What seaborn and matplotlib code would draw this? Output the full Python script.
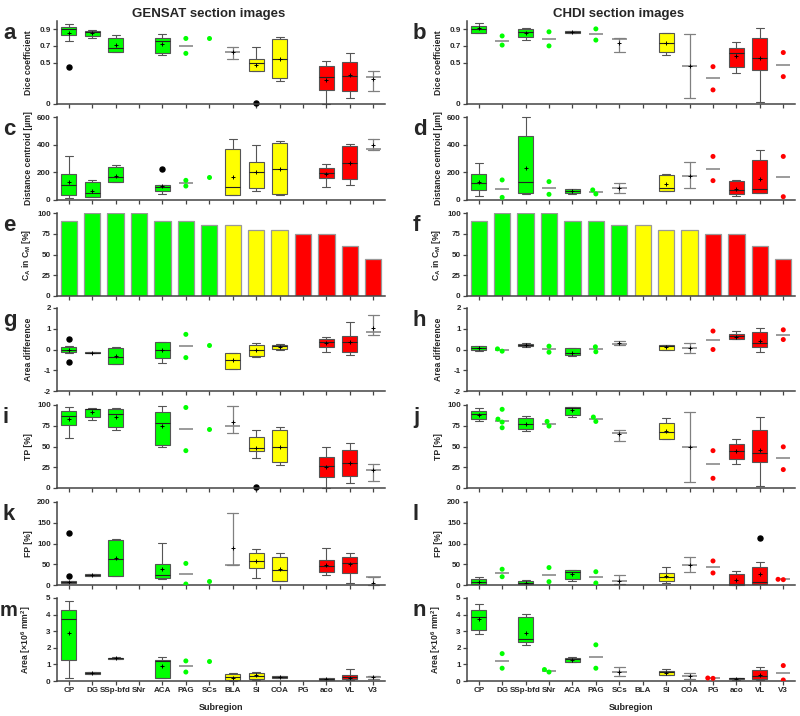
import numpy as np
import pandas as pd
import matplotlib
matplotlib.use("Agg")
import matplotlib.pyplot as plt
import seaborn as sns

# subregions and their colour groups
subregions = ["CP", "DG", "SSp-bfd", "SNr", "ACA", "PAG", "SCs",
              "BLA", "SI", "COA", "PG", "aco", "VL", "V3"]
groups = ["g"] * 7 + ["y"] * 3 + ["r"] * 4
group_colors = {"g": "#00ff00", "y": "#ffff00", "r": "#ff0000"}

# C_A in C_M [%] (same for both columns)
ca_in_cm = [90, 100, 100, 100, 90, 90, 85, 85, 80, 80, 75, 75, 60, 45]

# box: (low whisker, q1, median, q3, high whisker, mean)
# range: (low, median, high, mean)  -> grey whisker-only
# dots: individual values
dice_gensat = {
    "CP": ("box", 0.755, 0.837, 0.90, 0.93, 0.96, 0.85),
    "DG": ("box", 0.80, 0.82, 0.87, 0.885, 0.89, 0.86),
    "SSp-bfd": ("box", 0.63, 0.63, 0.68, 0.80, 0.83, 0.71),
    "ACA": ("box", 0.585, 0.62, 0.755, 0.80, 0.845, 0.72),
    "PAG": ("dots", [0.79, 0.61]),
    "SCs": ("dots", [0.80]),
    "BLA": ("range", 0.54, 0.63, 0.685, 0.625),
    "SI": ("box", 0.40, 0.40, 0.50, 0.54, 0.69, 0.465),
    "COA": ("box", 0.28, 0.31, 0.54, 0.78, 0.81, 0.54),
    "aco": ("box", 0.0, 0.17, 0.33, 0.46, 0.52, 0.29),
    "VL": ("box", 0.07, 0.16, 0.34, 0.51, 0.61, 0.35),
    "V3": ("range", 0.16, 0.32, 0.40, 0.30),
}
dice_gensat_out = {"CP": [0.44], "SI": [0.01]}

dice_chdi = {
    "CP": ("box", 0.85, 0.86, 0.905, 0.94, 0.97, 0.91),
    "DG": ("dots", [0.82, 0.71]),
    "SSp-bfd": ("box", 0.775, 0.81, 0.865, 0.905, 0.92, 0.86),
    "SNr": ("dots", [0.87, 0.70]),
    "ACA": ("box", 0.85, 0.855, 0.87, 0.88, 0.885, 0.87),
    "PAG": ("dots", [0.905, 0.77]),
    "SCs": ("range", 0.63, 0.785, 0.79, 0.74),
    "SI": ("box", 0.59, 0.63, 0.735, 0.86, 0.86, 0.735),
    "COA": ("range", 0.07, 0.46, 0.845, 0.46),
    "PG": ("dots", [0.45, 0.17]),
    "aco": ("box", 0.37, 0.45, 0.61, 0.68, 0.75, 0.58),
    "VL": ("box", 0.03, 0.41, 0.56, 0.79, 0.92, 0.55),
    "V3": ("dots", [0.62, 0.33]),
}

dist_gensat = {
    "CP": ("box", 14, 39, 111, 188, 321, 133),
    "DG": ("box", 19, 24, 53, 128, 145, 63),
    "SSp-bfd": ("box", 133, 133, 169, 235, 254, 177),
    "ACA": ("box", 41, 68, 97, 111, 111, 101),
    "PAG": ("dots", [101, 142]),
    "SCs": ("dots", [167]),
    "BLA": ("box", 36, 36, 94, 367, 444, 169),
    "SI": ("box", 65, 85, 200, 278, 394, 200),
    "COA": ("box", 34, 44, 223, 411, 428, 222),
    "aco": ("box", 97, 157, 198, 230, 261, 189),
    "VL": ("box", 109, 152, 271, 392, 406, 271),
    "V3": ("range", 358, 368, 443, 394),
}
dist_gensat_out = {"ACA": [222]}

dist_chdi = {
    "CP": ("box", 29, 73, 121, 189, 266, 133),
    "DG": ("dots", [145, 19]),
    "SSp-bfd": ("box", 41, 53, 128, 465, 600, 230),
    "SNr": ("dots", [133, 41]),
    "ACA": ("box", 44, 48, 65, 77, 82, 65),
    "PAG": ("dots", [44, 73]),
    "SCs": ("range", 53, 90, 123, 85),
    "SI": ("box", 65, 65, 85, 181, 189, 114),
    "COA": ("range", 85, 177, 278, 177),
    "PG": ("dots", [315, 140]),
    "aco": ("box", 32, 45, 70, 138, 141, 82),
    "VL": ("box", 48, 48, 77, 290, 358, 152),
    "V3": ("dots", [315, 24]),
}

adiff_gensat = {
    "CP": ("box", -0.18, -0.10, 0.0, 0.10, 0.19, 0.0),
    "DG": ("box", -0.18, -0.17, -0.15, -0.12, -0.11, -0.15),
    "SSp-bfd": ("box", -0.68, -0.68, -0.34, 0.05, 0.10, -0.31),
    "ACA": ("box", -0.63, -0.42, -0.03, 0.34, 0.37, -0.03),
    "PAG": ("dots", [0.73, -0.39]),
    "SCs": ("dots", [0.24]),
    "BLA": ("box", -0.94, -0.92, -0.52, -0.15, -0.15, -0.52),
    "SI": ("box", -0.34, -0.31, 0.0, 0.21, 0.31, -0.03),
    "COA": ("box", -0.03, 0.02, 0.15, 0.24, 0.26, 0.13),
    "aco": ("box", -0.10, 0.11, 0.35, 0.52, 0.61, 0.32),
    "VL": ("box", -0.26, -0.10, 0.37, 0.63, 1.32, 0.37),
    "V3": ("range", 0.68, 0.82, 1.65, 1.06),
}
adiff_gensat_out = {"CP": [0.5, -0.61]}

adiff_chdi = {
    "CP": ("box", -0.05, -0.03, 0.05, 0.16, 0.19, 0.05),
    "DG": ("dots", [-0.08, 0.03]),
    "SSp-bfd": ("box", 0.13, 0.16, 0.21, 0.26, 0.31, 0.20),
    "SNr": ("dots", [-0.13, 0.16]),
    "ACA": ("box", -0.29, -0.27, -0.18, 0.05, 0.06, -0.18),
    "PAG": ("dots", [-0.11, 0.13]),
    "SCs": ("range", 0.23, 0.27, 0.39, 0.30),
    "SI": ("box", 0.0, 0.0, 0.19, 0.24, 0.24, 0.13),
    "COA": ("range", -0.19, 0.06, 0.31, 0.06),
    "PG": ("dots", [0.89, 0.0]),
    "aco": ("box", 0.50, 0.50, 0.63, 0.74, 0.87, 0.61),
    "VL": ("box", -0.13, 0.11, 0.29, 0.84, 1.06, 0.42),
    "V3": ("dots", [0.95, 0.48]),
}

tp_gensat = {
    "CP": ("box", 59.7, 75.4, 86.7, 92.7, 97, 83),
    "DG": ("box", 82.5, 85.5, 95, 95.5, 96, 91.5),
    "SSp-bfd": ("box", 70, 74, 89, 95, 96, 86),
    "ACA": ("box", 49.6, 52.4, 78.6, 91.5, 99, 75),
    "PAG": ("dots", [97, 45]),
    "SCs": ("dots", [70.6]),
    "BLA": ("range", 66.5, 75, 99, 79),
    "SI": ("box", 36, 44, 48, 61, 70, 48.5),
    "COA": ("box", 28, 31, 49, 70, 73, 49),
    "aco": ("box", 0, 13, 26, 37.5, 50, 25.4),
    "VL": ("box", 6.5, 14.5, 30, 46, 54.4, 30.6),
    "V3": ("range", 8.9, 22, 29.4, 21.8),
}
tp_gensat_out = {"SI": [1]}

tp_chdi = {
    "CP": ("box", 80.6, 83.5, 88.7, 93, 96.8, 88),
    "DG": ("dots", [94.8, 83, 79.4, 72.6]),
    "SSp-bfd": ("box", 69, 71, 77.4, 84.7, 86.7, 77),
    "SNr": ("dots", [74.6, 80.2]),
    "ACA": ("box", 85, 87.5, 96.8, 98, 98, 94),
    "PAG": ("dots", [80.2, 85.5]),
    "SCs": ("range", 56.9, 66.5, 69.4, 64.5),
    "SI": ("box", 58.5, 58.5, 67, 78.6, 84.7, 68.5),
    "COA": ("range", 6.9, 49.6, 92, 49.6),
    "PG": ("dots", [45, 11.7]),
    "aco": ("box", 29.4, 35.5, 44.4, 53.6, 59, 44),
    "VL": ("box", 2.4, 31.5, 42.3, 69.8, 85.9, 46),
    "V3": ("dots", [49.6, 22.2]),
}

fp_gensat = {
    "CP": ("box", 4.8, 4.9, 7.4, 10.6, 10.6, 8),
    "DG": ("box", 21.5, 21.8, 24, 25.8, 25.8, 24),
    "SSp-bfd": ("box", 21.8, 21.8, 63, 108, 110, 65),
    "ACA": ("box", 14.5, 16, 25, 51, 102, 38.7),
    "PAG": ("dots", [52, 2.4]),
    "SCs": ("dots", [8.9]),
    "BLA": ("range", 47, 47, 174, 89),
    "SI": ("box", 17.7, 42, 57, 76.6, 87, 57.3),
    "COA": ("box", 8.9, 8.9, 35.5, 68.5, 76.6, 38.7),
    "aco": ("box", 23.4, 30.6, 46.8, 60.5, 89.5, 48.4),
    "VL": ("box", 4, 29.8, 54, 68.5, 76.6, 50),
    "V3": ("range", 0.5, 19.5, 20, 4),
}
fp_gensat_out = {"CP": [126, 22]}

fp_chdi = {
    "CP": ("box", 1.6, 2.4, 8, 14.5, 20, 7),
    "DG": ("dots", [38, 20]),
    "SSp-bfd": ("box", 1.6, 1.6, 4.8, 9.7, 11.3, 4.8),
    "SNr": ("dots", [42, 8]),
    "ACA": ("box", 9.7, 14.5, 30.6, 36, 36, 26.6),
    "PAG": ("dots", [32, 4.8]),
    "SCs": ("range", 1.6, 8.9, 25, 9.7),
    "SI": ("box", 4, 10.5, 20, 28, 44, 21.8),
    "COA": ("range", 30.6, 47.6, 67, 47.6),
    "PG": ("dots", [58, 29]),
    "aco": ("box", 0, 0, 1.6, 25.8, 33, 12),
    "VL": ("box", 2.4, 2.4, 6.5, 44, 55, 26.6),
    "V3": ("dots", [12.9, 13.7]),
}
fp_chdi_out = {"VL": [113]}

area_gensat = {
    "CP": ("box", 0.2, 1.27, 3.75, 4.29, 4.8, 2.9),
    "DG": ("box", 0.42, 0.44, 0.48, 0.53, 0.55, 0.48),
    "SSp-bfd": ("box", 1.32, 1.33, 1.37, 1.41, 1.42, 1.37),
    "ACA": ("box", 0.2, 0.2, 1.23, 1.27, 1.45, 0.9),
    "PAG": ("dots", [1.21, 0.54]),
    "SCs": ("dots", [1.23]),
    "BLA": ("box", 0.02, 0.06, 0.22, 0.42, 0.46, 0.2),
    "SI": ("box", 0.08, 0.14, 0.32, 0.5, 0.54, 0.34),
    "COA": ("box", 0.16, 0.17, 0.24, 0.29, 0.3, 0.24),
    "aco": ("box", 0.04, 0.06, 0.12, 0.16, 0.18, 0.12),
    "VL": ("box", 0.06, 0.1, 0.22, 0.34, 0.7, 0.2),
    "V3": ("range", 0.12, 0.22, 0.3, 0.22),
}

area_chdi = {
    "CP": ("box", 2.84, 3.08, 3.85, 4.29, 4.66, 3.75),
    "DG": ("dots", [1.65, 0.77]),
    "SSp-bfd": ("box", 2.14, 2.34, 2.54, 3.85, 4.05, 2.92),
    "SNr": ("dots", [0.54, 0.69]),
    "ACA": ("box", 1.15, 1.17, 1.33, 1.41, 1.43, 1.29),
    "PAG": ("dots", [2.18, 0.77]),
    "SCs": ("range", 0.3, 0.54, 0.87, 0.56),
    "SI": ("box", 0.36, 0.36, 0.52, 0.58, 0.7, 0.5),
    "COA": ("range", 0.14, 0.28, 0.46, 0.28),
    "PG": ("dots", [0.16, 0.18]),
    "aco": ("box", 0.08, 0.1, 0.16, 0.2, 0.2, 0.15),
    "VL": ("box", 0.08, 0.12, 0.32, 0.67, 0.85, 0.38),
    "V3": ("dots", [0.93, 0.06]),
}

sns.set_style("ticks")
plt.rcParams["font.family"] = ["Liberation Sans", "DejaVu Sans"]
plt.rcParams["font.weight"] = "bold"
plt.rcParams["axes.unicode_minus"] = False
plt.rcParams["mathtext.fontset"] = "custom"
plt.rcParams["mathtext.rm"] = "Liberation Sans:bold"
plt.rcParams["mathtext.it"] = "Liberation Sans:bold"
plt.rcParams["mathtext.default"] = "rm"

palette = {s: group_colors[g] for s, g in zip(subregions, groups)}
EDGE = "#555555"
GREY = "#808080"

fig = plt.figure(figsize=(8, 7.16), dpi=100)


def px_axes(left, top, bottom, width=328):
    return fig.add_axes([left / 800, 1 - bottom / 716, width / 800, (bottom - top) / 716])


def draw_box_panel(ax, data, outliers):
    box_stats, box_pos, box_cols = [], [], []
    rng_stats, rng_pos = [], []
    dots = []
    for i, name in enumerate(subregions):
        if name not in data:
            continue
        kind, *vals = data[name]
        if kind == "box":
            lo, q1, med, q3, hi, mean = vals
            box_stats.append(dict(whislo=lo, q1=q1, med=med, q3=q3, whishi=hi,
                                  mean=mean, fliers=outliers.get(name, [])))
            box_pos.append(i)
            box_cols.append(palette[name])
        elif kind == "range":
            lo, med, hi, mean = vals
            rng_stats.append(dict(whislo=lo, q1=med, med=med, q3=med, whishi=hi,
                                  mean=mean, fliers=[]))
            rng_pos.append(i)
        else:
            pts = vals[0]
            for v in pts:
                dots.append((name, v))
            if len(pts) > 1:
                ax.hlines(np.median(pts), i - 0.3, i + 0.3, color=GREY, lw=1.1, zorder=2)

    df = pd.DataFrame(dots, columns=["Subregion", "value"])
    sns.swarmplot(data=df, x="Subregion", y="value", hue="Subregion", order=subregions,
                  palette=palette, size=3.6, legend=False, ax=ax, zorder=3)

    mean_kw = dict(marker="+", markeredgecolor="black", markersize=3.5, markeredgewidth=0.7)
    res = ax.bxp(box_stats, positions=box_pos, widths=0.65, capwidths=0.34,
                 patch_artist=True, showmeans=True, manage_ticks=False,
                 boxprops=dict(edgecolor=EDGE, linewidth=0.8),
                 whiskerprops=dict(color=EDGE, linewidth=0.8),
                 capprops=dict(color=EDGE, linewidth=0.8),
                 medianprops=dict(color="#222222", linewidth=0.8),
                 meanprops=mean_kw,
                 flierprops=dict(marker="o", markerfacecolor="black", markeredgecolor="black",
                                 markersize=3.6))
    for patch, c in zip(res["boxes"], box_cols):
        patch.set_facecolor(c)
    for key in res:
        for art in res[key]:
            art.set_clip_on(False)
    if rng_stats:
        res2 = ax.bxp(rng_stats, positions=rng_pos, widths=0.65, capwidths=0.45,
                      showbox=False, showmeans=True, manage_ticks=False, showfliers=False,
                      whiskerprops=dict(color=GREY, linewidth=0.9),
                      capprops=dict(color=GREY, linewidth=0.9),
                      medianprops=dict(color=GREY, linewidth=1.1),
                      meanprops=mean_kw)
        for key in res2:
            for art in res2[key]:
                art.set_clip_on(False)


def draw_bar_panel(ax):
    sns.barplot(x=subregions, y=ca_in_cm, hue=subregions, order=subregions, palette=palette,
                saturation=1, legend=False, width=0.7, edgecolor="#999999", linewidth=0.9,
                ax=ax)


rows = [
    ("Dice coefficient", (0, 1.0), [0, 0.5, 0.7, 0.9], ["0", "0.5", "0.7", "0.9"]),
    ("Distance centroid [µm]", (0, 600), [0, 200, 400, 600], None),
    (r"C$_{A}$ in C$_{M}$ [%]", (0, 100), [0, 25, 50, 75, 100], None),
    ("Area difference", (-2, 2), [-2, -1, 0, 1, 2], None),
    ("TP [%]", (0, 100), [0, 25, 50, 75, 100], None),
    ("FP [%]", (0, 200), [0, 50, 100, 150, 200], None),
    (r"Area [×10$^{6}$ mm$^{2}$]", (0, 5), [0, 1, 2, 3, 4, 5], None),
]
row_tops = [21, 117, 213, 308, 405, 502, 598]
left_data = [(dice_gensat, dice_gensat_out), (dist_gensat, dist_gensat_out), None,
             (adiff_gensat, adiff_gensat_out), (tp_gensat, tp_gensat_out),
             (fp_gensat, fp_gensat_out), (area_gensat, {})]
right_data = [(dice_chdi, {}), (dist_chdi, {}), None, (adiff_chdi, {}), (tp_chdi, {}),
              (fp_chdi, fp_chdi_out), (area_chdi, {})]
letters_left = list("acegikm")
letters_right = list("bdfhjln")

for col, (x0, datasets, letters) in enumerate([(57, left_data, letters_left),
                                                (467, right_data, letters_right)]):
    for r, top in enumerate(row_tops):
        ax = px_axes(x0, top, top + 83)
        if datasets[r] is None:
            draw_bar_panel(ax)
        else:
            draw_box_panel(ax, *datasets[r])
        ylabel, ylim, yticks, ylabs = rows[r]
        ax.set_xlim(-0.5, 13.5)
        ax.set_ylim(*ylim)
        ax.set_yticks(yticks)
        if ylabs:
            ax.set_yticklabels(ylabs)
        ax.set_xticks(range(len(subregions)))
        if r == len(row_tops) - 1:
            ax.set_xticklabels(subregions, fontsize=6.3, fontweight="bold")
            ax.set_xlabel("Subregion", fontsize=6.5, fontweight="bold", labelpad=6)
        else:
            ax.set_xticklabels([])
            ax.set_xlabel("")
        ax.set_ylabel(ylabel, fontsize=6.2, fontweight="bold")
        ax.yaxis.set_label_coords(-0.073, 0.5)
        ax.tick_params(axis="both", labelsize=5.8, length=3, width=0.9, color="#444444", pad=1.5)
        for lab in ax.get_yticklabels():
            lab.set_fontweight("bold")
        sns.despine(ax=ax)
        for sp in ("left", "bottom"):
            ax.spines[sp].set_color("#444444")
            ax.spines[sp].set_linewidth(1.1)
        ax.set_facecolor("none")
        letter = letters[r]
        lx = 3 if col == 0 else 413
        fsize = 16
        if letter == "m":
            lx, fsize = 0, 14.5
        fig.text(lx / 800, 1 - (top + 18) / 716, letter, fontsize=fsize,
                 fontweight="bold", va="baseline", ha="left")

fig.text(209 / 800, 1 - 14 / 716, "GENSAT section images", ha="center", va="center",
         fontsize=9.5, fontweight="bold")
fig.text(619 / 800, 1 - 14 / 716, "CHDI section images", ha="center", va="center",
         fontsize=9.5, fontweight="bold")

fig.savefig("out.png", dpi=100, facecolor="white")
